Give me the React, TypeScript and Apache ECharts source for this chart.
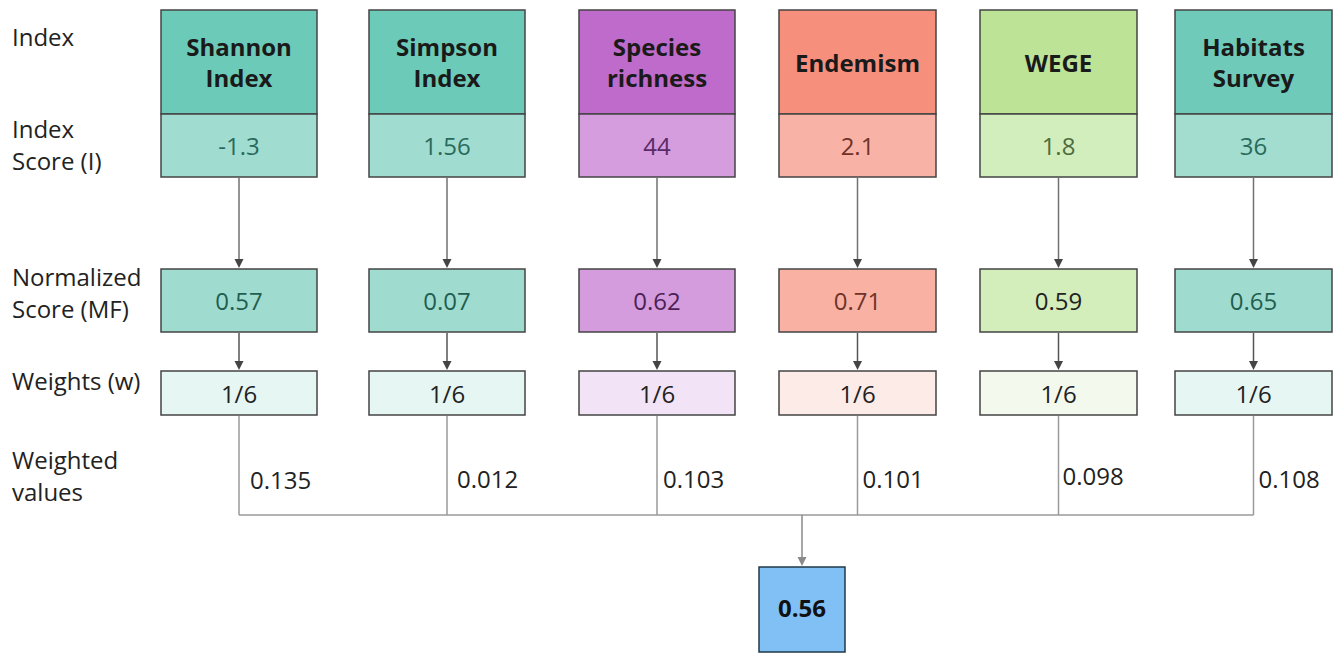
import React, { useEffect, useRef } from "react";
import * as echarts from "echarts";

// ---- data ----
const indexNames = ["Shannon\nIndex", "Simpson\nIndex", "Species\nrichness", "Endemism", "WEGE", "Habitats\nSurvey"];
const indexScores = [-1.3, 1.56, 44, 2.1, 1.8, 36];
const normalizedScores = [0.57, 0.07, 0.62, 0.71, 0.59, 0.65];
const weights = ["1/6", "1/6", "1/6", "1/6", "1/6", "1/6"];
const weightedValues = [0.135, 0.012, 0.103, 0.101, 0.098, 0.108];
const finalScore = 0.56;
const rowLabels = ["Index", "Index\nScore (I)", "Normalized\nScore (MF)", "Weights (w)", "Weighted\nvalues"];

// ---- layout / style (not data) ----
const W = 1335;
const H = 654;
const colLeft = [161, 369, 579, 779, 980, 1175];
const colWidth = [156, 156, 156, 157, 157, 157];
const valueOffset = [11, 10, 6, 5, 4, 5];
const valueY = [479, 478, 478, 478, 475, 478];
const palettes = [
  { head: "#6ccab8", score: "#a0ddd0", norm: "#9fdccf", w: "#e6f6f3", t1: "#2a6a5c", t2: "#1f5e50" },
  { head: "#6ccab8", score: "#a0ddd0", norm: "#9fdccf", w: "#e6f6f3", t1: "#2a6a5c", t2: "#1f5e50" },
  { head: "#be6bcb", score: "#d59ddd", norm: "#d59cdd", w: "#f2e4f6", t1: "#5b2a66", t2: "#4a2155" },
  { head: "#f78f7d", score: "#f9b2a6", norm: "#f9b1a4", w: "#fdebe8", t1: "#6e3328", t2: "#6e3328" },
  { head: "#bde397", score: "#d3eebd", norm: "#d3edbb", w: "#f3faed", t1: "#4d6b3d", t2: "#222222" },
  { head: "#6fcab9", score: "#a2ddd0", norm: "#9fdccf", w: "#e6f6f3", t1: "#2a6a5c", t2: "#1f5e50" },
];
const FONT = "'Open Sans', 'Noto Sans', sans-serif";
const BORDER = "#444444";

function txt(x: number, y: number, text: string, opts: any = {}) {
  return {
    type: "text",
    style: {
      x,
      y,
      text,
      fill: opts.fill || "#222222",
      fontSize: opts.fontSize || 24,
      fontWeight: opts.fontWeight || "normal",
      fontFamily: FONT,
      lineHeight: opts.lineHeight || 31,
      align: opts.align || "center",
      verticalAlign: "middle",
      textAlign: opts.align || "center",
      textVerticalAlign: "middle",
    },
  };
}

function arrowHead(x: number, y: number, color: string) {
  return {
    type: "polygon",
    shape: { points: [[x - 4.5, y - 9], [x + 4.5, y - 9], [x, y]] },
    style: { fill: color },
  };
}

export default function App() {
  const ref = useRef<HTMLDivElement>(null);
  useEffect(() => {
    if (!ref.current) return;
    const chart = echarts.init(ref.current, null, { renderer: "svg" });

    const columnItem = (params: any, api: any) => {
      const i = params.dataIndex;
      const P = (x: number, y: number) => api.coord([x, y]);
      const pal = palettes[i];
      const l = colLeft[i];
      const w = colWidth[i];
      const [x0, yTop] = P(l, 10);
      const [x1] = P(l + w, 10);
      const cx = (x0 + x1) / 2;
      const yHeadB = P(0, 114)[1];
      const yScoreB = P(0, 177)[1];
      const yNormT = P(0, 269)[1];
      const yNormB = P(0, 332)[1];
      const yWT = P(0, 371)[1];
      const yWB = P(0, 415)[1];
      const yBus = P(0, 515)[1];
      const rect = (y0: number, y1: number, fill: string) => ({
        type: "rect",
        shape: { x: x0, y: y0, width: x1 - x0, height: y1 - y0 },
        style: { fill, stroke: BORDER, lineWidth: 1.5 },
      });
      return {
        type: "group",
        children: [
          rect(yTop, yHeadB, pal.head),
          rect(yHeadB, yScoreB, pal.score),
          rect(yNormT, yNormB, pal.norm),
          rect(yWT, yWB, pal.w),
          txt(cx, (yTop + yHeadB) / 2, indexNames[i], { fontWeight: "bold", fontSize: 24, fill: "#1a1a1a" }),
          txt(cx, (yHeadB + yScoreB) / 2, String(indexScores[i]), { fill: pal.t1 }),
          txt(cx, (yNormT + yNormB) / 2, String(normalizedScores[i]), { fill: pal.t2 }),
          txt(cx, (yWT + yWB) / 2, weights[i], { fill: "#222222" }),
          {
            type: "line",
            shape: { x1: cx, y1: yScoreB + 1, x2: cx, y2: yNormT - 6 },
            style: { stroke: "#707070", lineWidth: 1.5 },
          },
          arrowHead(cx, yNormT - 1, "#444444"),
          {
            type: "line",
            shape: { x1: cx, y1: yNormB + 1, x2: cx, y2: yWT - 6 },
            style: { stroke: "#555555", lineWidth: 1.5 },
          },
          arrowHead(cx, yWT - 1, "#444444"),
          {
            type: "polyline",
            shape: { points: [[cx, yWB + 1], [cx, yBus]] },
            style: { stroke: "#9a9a9a", lineWidth: 1.5, fill: "none" },
          },
          txt(cx + valueOffset[i], P(0, valueY[i])[1], String(weightedValues[i]), { align: "left" }),
        ],
      };
    };

    const summaryItem = (params: any, api: any) => {
      const P = (x: number, y: number) => api.coord([x, y]);
      const first = colLeft[0] + colWidth[0] / 2;
      const last = colLeft[5] + colWidth[5] / 2;
      const [bx0, yBus] = P(first, 515);
      const [bx1] = P(last, 515);
      const [fx0, fy0] = P(759, 567);
      const [fx1, fy1] = P(845, 652);
      const fcx = (fx0 + fx1) / 2;
      const labelYs = [36, 144, 292, 380, 475];
      const children: any[] = [
        {
          type: "line",
          shape: { x1: bx0, y1: yBus, x2: bx1, y2: yBus },
          style: { stroke: "#9a9a9a", lineWidth: 1.5 },
        },
        {
          type: "line",
          shape: { x1: fcx, y1: yBus, x2: fcx, y2: fy0 - 6 },
          style: { stroke: "#8a8a8a", lineWidth: 1.5 },
        },
        arrowHead(fcx, fy0 - 1, "#8a8a8a"),
        {
          type: "rect",
          shape: { x: fx0, y: fy0, width: fx1 - fx0, height: fy1 - fy0 },
          style: { fill: "#80c0f4", stroke: "#22384a", lineWidth: 1.5 },
        },
        txt(fcx, (fy0 + fy1) / 2 - 2, String(finalScore), { fontWeight: "bold", fontSize: 24, fill: "#111111" }),
      ];
      rowLabels.forEach((lab, k) => {
        const [lx, ly] = P(12, labelYs[k]);
        children.push(txt(lx, ly, lab, { align: "left", lineHeight: 32 }));
      });
      return { type: "group", children };
    };

    chart.setOption({
      animation: false,
      backgroundColor: "#ffffff",
      grid: { left: 0, right: 0, top: 0, bottom: 0 },
      xAxis: { type: "value", min: 0, max: W, show: false },
      yAxis: { type: "value", min: 0, max: H, inverse: true, show: false },
      series: [
        {
          type: "custom",
          silent: true,
          clip: false,
          renderItem: columnItem,
          data: indexNames.map((n, i) => [i, normalizedScores[i], weightedValues[i]]),
        },
        {
          type: "custom",
          silent: true,
          clip: false,
          renderItem: summaryItem,
          data: [[0, finalScore]],
        },
      ],
    });
    return () => chart.dispose();
  }, []);
  return (
    <div
      ref={ref}
      style={{ position: "fixed", left: 0, top: 0, width: W, height: H, background: "#fff" }}
    />
  );
}
